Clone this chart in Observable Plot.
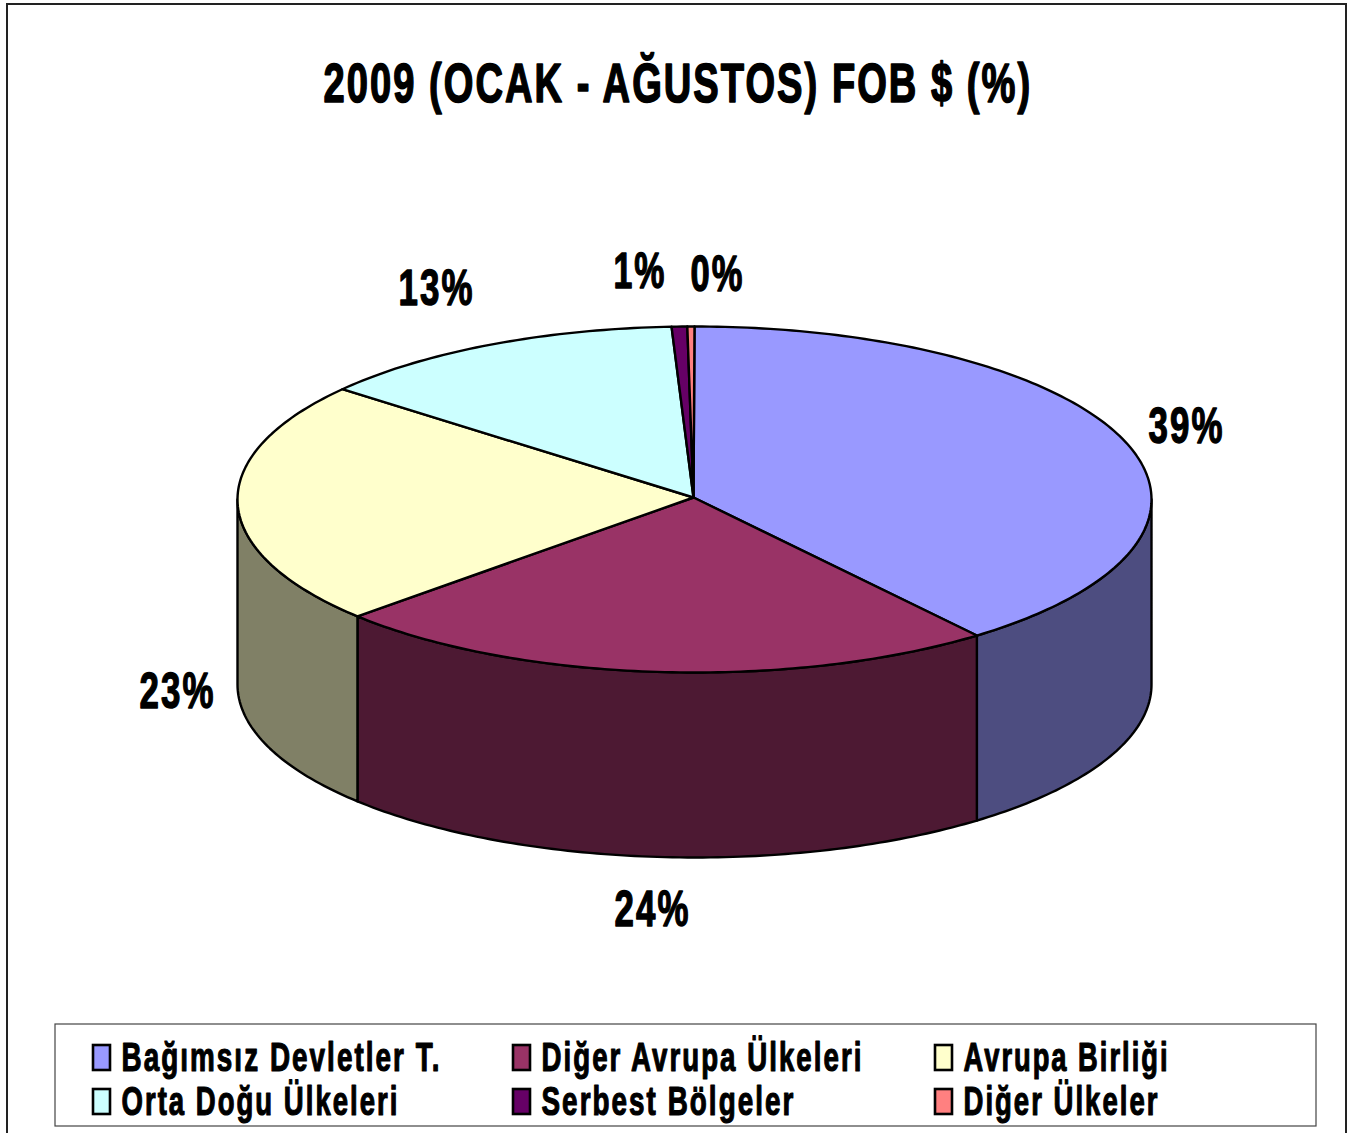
<!DOCTYPE html>
<html lang="tr">
<head>
<meta charset="utf-8">
<style>html,body{margin:0;padding:0;background:#fff;overflow:hidden}svg{display:block}</style>
<script src="https://cdn.jsdelivr.net/npm/d3@7"></script>
<script src="https://cdn.jsdelivr.net/npm/@observablehq/plot@0.6"></script>
</head>
<body>
<div id="chart"></div>
<script>
// Data
const titleText = "2009 (OCAK - AĞUSTOS) FOB $ (%)";
const names = ["Bağımsız Devletler T.", "Diğer Avrupa Ülkeleri", "Avrupa Birliği", "Orta Doğu Ülkeleri", "Serbest Bölgeler", "Diğer Ülkeler"];
const shares = [39.4, 23.8, 22.8, 13.2, 0.55, 0.25];
const shareLabels = ["39%", "24%", "23%", "13%", "1%", "0%"];
const topColors = ["#9999FF", "#993366", "#FFFFCC", "#CCFFFF", "#660066", "#FF8080"];
const sideColors = ["#4D4D80", "#4D1933", "#808066", "#668080", "#330033", "#804040"];

// Layout of the drawing, in pixels of the page
const pie = {cx: 694, cy: 499, rx: 457, ry: 173, depth: 185};
const labelX = [1148, 614, 139, 398, 613, 690];
const labelY = [442, 925, 707, 304, 287, 290];
const legendX = [92, 512, 934];
const legendY = [1070, 1114];
const widths = new Map([
  [titleText, 709],
  ["39%", 76], ["24%", 76], ["23%", 76], ["13%", 76], ["1%", 53], ["0%", 54],
  [names[0], 320], [names[1], 322], [names[2], 206], [names[3], 278], [names[4], 254], [names[5], 196]
]);

// Slice geometry derived from the shares (clockwise from 12 o'clock)
const total = d3.sum(shares);
const cum = d3.cumsum(shares);
const turn = (v) => (v / total) * 2 * Math.PI;
const rim = (t, dz = 0) => ({x: pie.cx + pie.rx * Math.sin(t), y: pie.cy - pie.ry * Math.cos(t) + dz});

const topPts = [], sidePts = [];
names.forEach((name, i) => {
  const a0 = turn(i ? cum[i - 1] : 0), a1 = turn(cum[i]);
  const n = Math.max(2, Math.ceil((a1 - a0) * 60));
  const arc = d3.range(n + 1).map((k) => a0 + (a1 - a0) * k / n);
  topPts.push({name, fill: topColors[i], x: pie.cx - 1, y: pie.cy - 2});
  arc.forEach((t) => topPts.push({name, fill: topColors[i], ...rim(t)}));
  topPts.push({name, fill: topColors[i], x: pie.cx - 1, y: pie.cy - 2});
  // the wall is only visible on the front half of the rim
  const s0 = Math.max(a0, Math.PI / 2), s1 = Math.min(a1, 3 * Math.PI / 2);
  if (s1 > s0) {
    const m = Math.ceil((s1 - s0) * 60);
    const front = d3.range(m + 1).map((k) => s0 + (s1 - s0) * k / m);
    front.forEach((t) => sidePts.push({name, fill: sideColors[i], ...rim(t)}));
    front.reverse().forEach((t) => sidePts.push({name, fill: sideColors[i], ...rim(t, pie.depth)}));
    sidePts.push({name, fill: sideColors[i], ...rim(s0)});
  }
});

const labelRows = shareLabels.map((text, i) => ({text, x: labelX[i], y: labelY[i]}));
const legendRows = names.map((name, i) => {
  const col = i % 3, row = Math.floor(i / 3);
  return {name, fill: topColors[i], x: legendX[col], base: legendY[row]};
});
const bold = {fontFamily: "Liberation Sans", fontWeight: "bold", textAnchor: "start", lineAnchor: "bottom", fill: "#000", stroke: "#000"};

const chart = Plot.plot({
  width: 1352, height: 1133,
  margin: 0,
  x: {domain: [0, 1352], range: [0, 1352], axis: null},
  y: {domain: [0, 1133], range: [0, 1133], axis: null},
  color: {type: "identity"},
  style: {background: "#fff"},
  marks: [
    Plot.rect([{x1: 7, x2: 1346, y1: 4, y2: 1140}], {x1: "x1", x2: "x2", y1: "y1", y2: "y2", fill: "#fff", stroke: "#222", strokeWidth: 2}),
    Plot.line(sidePts, {x: "x", y: "y", z: "name", fill: "fill", stroke: "#000", strokeWidth: 2.4, strokeLinejoin: "round"}),
    Plot.line(topPts, {x: "x", y: "y", z: "name", fill: "fill", stroke: "#000", strokeWidth: 2.4, strokeLinejoin: "round"}),
    Plot.text([titleText], {...bold, x: 323, y: 101, text: (d) => d, fontSize: 56, strokeWidth: 1.6}),
    Plot.text(labelRows, {...bold, x: "x", y: "y", text: "text", fontSize: 50, strokeWidth: 1.4}),
    Plot.rect([{x1: 55, x2: 1316, y1: 1024, y2: 1126}], {x1: "x1", x2: "x2", y1: "y1", y2: "y2", fill: "#fff", stroke: "#444", strokeWidth: 1.2}),
    Plot.rect(legendRows, {x1: (d) => d.x + 1, x2: (d) => d.x + 18, y1: (d) => d.base - 25, y2: (d) => d.base, fill: "fill", stroke: "#000", strokeWidth: 2.6}),
    Plot.text(legendRows, {...bold, x: (d) => d.x + 29, y: "base", text: "name", fontSize: 41, strokeWidth: 1.2})
  ]
});
document.getElementById("chart").append(chart);

// The original type is condensed: squeeze each string horizontally to its measured width
chart.querySelectorAll("text").forEach((el) => {
  const w = widths.get(el.textContent);
  if (w) {
    el.style.letterSpacing = "3px";
    const natural = el.getComputedTextLength();
    el.setAttribute("transform", `${el.getAttribute("transform") || ""} scale(${w / natural},1)`);
  }
});
</script>
</body>
</html>
